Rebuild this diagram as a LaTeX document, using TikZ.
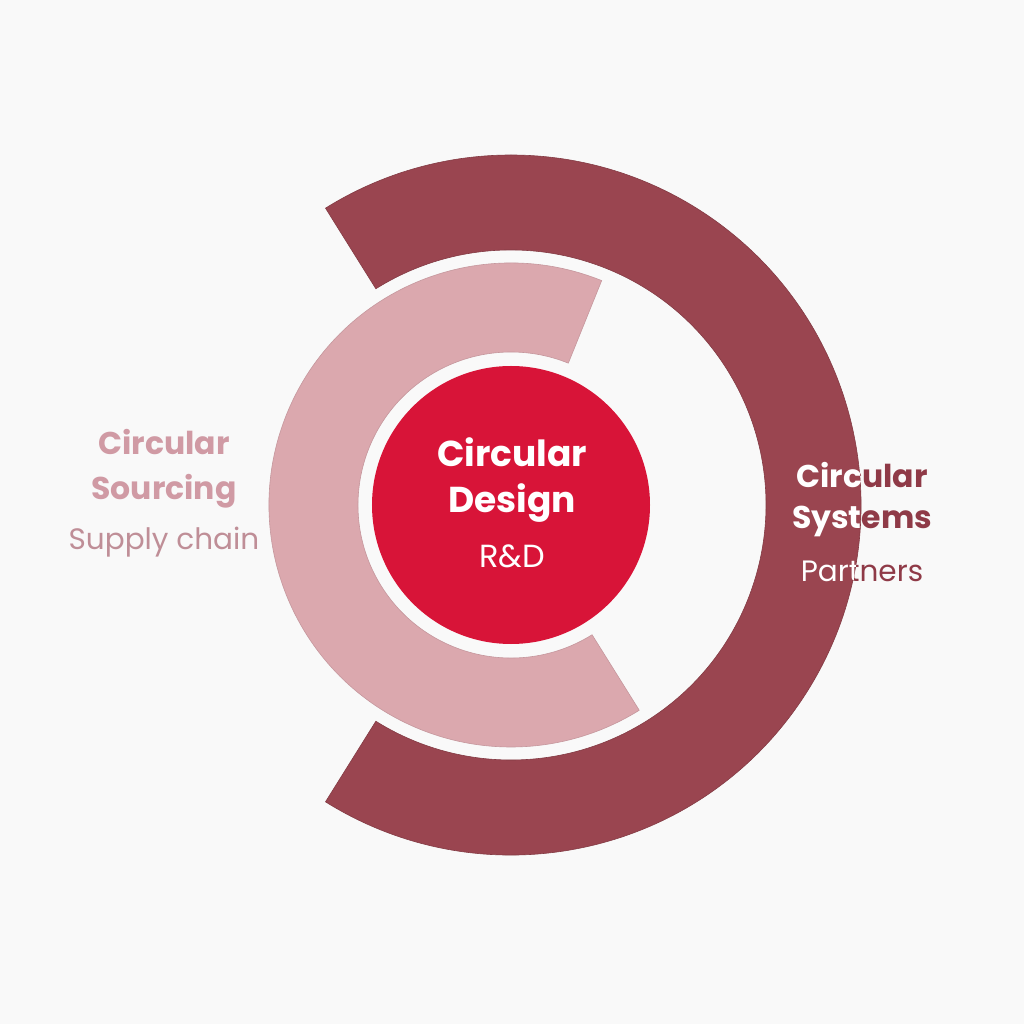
\documentclass[tikz,border=0pt]{standalone}
\usepackage{fontspec}
\setmainfont{Poppins}
\usepackage{xcolor}
\usepackage{tikz}
\definecolor{paper}{HTML}{F9F9F9}
\definecolor{core}{HTML}{D81438}
\definecolor{sourcing}{HTML}{DBA8AE}
\definecolor{sourcingtxt}{HTML}{D09AA4}
\definecolor{systems}{HTML}{9A4550}
\definecolor{systemstxt}{HTML}{8F3A47}
\tikzset{
  ring/.style={line width=0.6pt, line join=miter},
  head/.style={anchor=base, font=\bfseries\fontsize{36}{40}\selectfont, inner sep=0pt},
  sub/.style={anchor=base, font=\fontsize{32}{36}\selectfont, inner sep=0pt},
  sidehead/.style={head, font=\bfseries\fontsize{31.5}{36}\selectfont},
  sidesub/.style={sub, font=\fontsize{29.5}{34}\selectfont},
}
% annulus segment from angle #1 to #2, radii #3 (inner) and #4 (outer)
\newcommand{\segpath}[4]{(#1:#4) arc[start angle=#1, end angle=#2, radius=#4] -- (#2:#3) arc[start angle=#2, end angle=#1, radius=#3] -- cycle}

\begin{document}
\begin{tikzpicture}[x=1pt, y=1pt]
  \useasboundingbox[fill=paper] (-511,-519) rectangle (513,505);
  \pgfmathsetmacro{\Rc}{139}
  \pgfmathsetmacro{\Ri}{153}
  \pgfmathsetmacro{\Ro}{242}
  \pgfmathsetmacro{\Si}{255}
  \pgfmathsetmacro{\So}{350}
  \coordinate (O) at (0,0);

  % rings
  \fill[systems, draw=systems!85!black, ring] \segpath{-122}{122}{\Si}{\So};
  \fill[sourcing, draw=sourcing!90!black, ring] \segpath{68}{302}{\Ri}{\Ro};
  \fill[core] (O) circle[radius=\Rc];

  % centre
  \node[head, text=white] (designA) at (1,38) {Circular};
  \node[head, text=white] (designB) at (1,-8) {Design};
  \node[sub, text=white] (designC) at (1,-63) {R\&D};

  % left
  \node[sidehead, text=sourcingtxt] (srcA) at (-347,50) {Circular};
  \node[sidehead, text=sourcingtxt] (srcB) at (-347,5) {Sourcing};
  \node[sidesub, text=sourcingtxt!92!black] (srcC) at (-347,-45) {Supply chain};

  % right, white where it lies on the ring
  \node[sidehead, text=systemstxt] (sysA) at (351,17) {Circular};
  \node[sidehead, text=systemstxt] (sysB) at (351,-24) {Systems};
  \node[sidesub, text=systemstxt] (sysC) at (351,-77) {Partners};
  \begin{scope}
    \clip \segpath{-122}{122}{\Si}{\So};
    \node[sidehead, text=white] at (351,17) {Circular};
    \node[sidehead, text=white] at (351,-24) {Systems};
    \node[sidesub, text=white] at (351,-77) {Partners};
  \end{scope}
\end{tikzpicture}
\end{document}
